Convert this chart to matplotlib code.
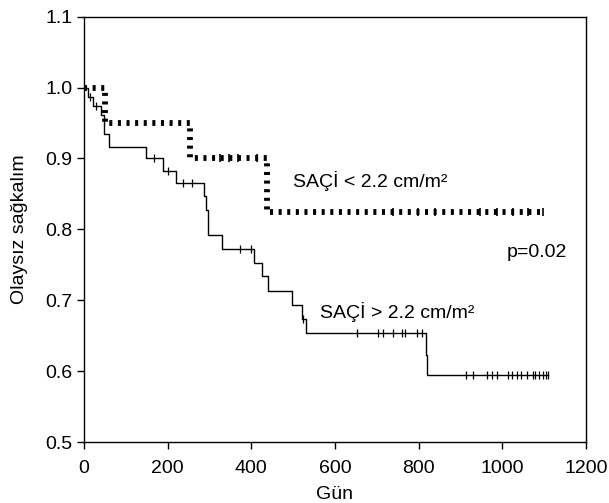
import numpy as np
import matplotlib
matplotlib.use("Agg")
import matplotlib.pyplot as plt

plt.rcParams['font.family'] = ['Liberation Sans', 'DejaVu Sans']
plt.rcParams['lines.scale_dashes'] = False

# SAÇİ > 2.2 cm/m2 (solid)
hi_times = [0, 10, 22, 40, 47, 60, 148, 189, 219, 287, 291, 297, 330, 406, 425, 440, 497, 521, 531, 818, 821, 1110]
hi_surv = [1.0, 0.987, 0.974, 0.961, 0.935, 0.916, 0.900, 0.882, 0.865, 0.847, 0.828, 0.792, 0.772, 0.753,
           0.734, 0.713, 0.694, 0.674, 0.654, 0.623, 0.595, 0.595]
hi_cens = [15, 29, 167, 201, 237, 258, 373, 399, 524, 652, 703, 715, 739, 760, 767, 796, 808,
           913, 930, 964, 975, 987, 1013, 1023, 1035, 1045, 1059, 1073, 1078, 1088, 1097, 1104, 1109]

# SAÇİ < 2.2 cm/m2 (dashed)
lo_times = [0, 50, 253, 437, 1100]
lo_surv = [1.0, 0.95, 0.90, 0.825, 0.825]
lo_cens = [325, 347, 368, 413, 739, 798, 839, 947, 987, 1026, 1061, 1097]


def surv_at(times, surv, t):
    idx = np.searchsorted(times, t, side='right') - 1
    return np.array(surv)[idx]


fs = 14
fig = plt.figure(figsize=(6.09, 5.03), dpi=100)
ax = fig.add_axes([0.138, 0.121, 0.824, 0.846])

ax.step(hi_times, hi_surv, where='post', color='black', lw=1.0)
ax.plot(hi_cens, surv_at(hi_times, hi_surv, hi_cens), ls='none', marker='|',
        ms=5.5, mew=0.9, color='black')

ax.step(lo_times, lo_surv, where='post', color='black', lw=4.2, dashes=(2.2, 4.0))
ax.plot(lo_cens, surv_at(lo_times, lo_surv, lo_cens), ls='none', marker='|',
        ms=6, mew=1.2, color='black')

ax.text(500, 0.868, 'SAÇİ < 2.2 cm/m²', fontsize=fs, va='center')
ax.text(1011, 0.768, 'p=0.02', fontsize=fs, va='center')
ax.text(564, 0.683, 'SAÇİ > 2.2 cm/m²', fontsize=fs, va='center')

ax.set_xlim(0, 1200)
ax.set_ylim(0.5, 1.1)
ax.set_xticks(np.arange(0, 1201, 200))
ax.set_yticks(np.arange(0.5, 1.11, 0.1))
ax.set_yticklabels(['%.1f' % v for v in np.arange(0.5, 1.11, 0.1)])
ax.tick_params(direction='out', length=5, width=1, labelsize=fs, top=False, right=False)
ax.tick_params(axis='x', pad=8)
ax.set_xlabel('Gün', fontsize=fs, labelpad=6)
ax.set_ylabel('Olaysız sağkalım', fontsize=fs, labelpad=12)
for s in ax.spines.values():
    s.set_linewidth(1.0)

fig.savefig('out.png', dpi=100)
